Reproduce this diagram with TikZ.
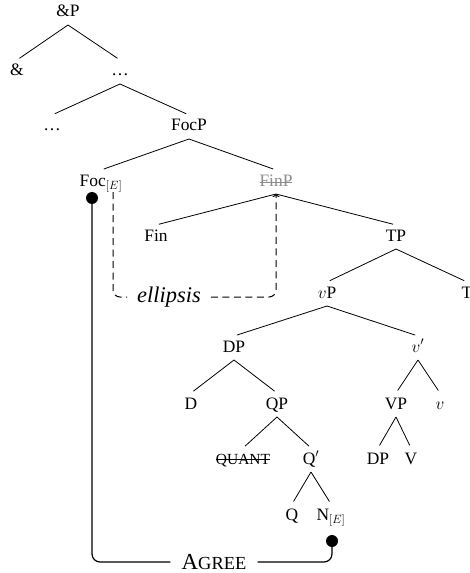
\documentclass[tikz,border=0pt]{standalone}
\usepackage{fontspec}
\setmainfont{Liberation Serif}
\usetikzlibrary{arrows.meta,calc}
\begin{document}
\begin{tikzpicture}[x=1bp,y=-1bp,
  font=\fontsize{17.5}{20}\selectfont,
  lab/.style={inner xsep=0pt, inner ysep=4bp, text height=12bp, text depth=4bp, outer sep=0pt},
  edge/.style={line width=0.8bp, shorten >=3bp},
  strike/.style={line width=0.8bp},
  dsh/.style={line width=1bp, dash pattern=on 7bp off 4.5bp, rounded corners=7bp},
  agr/.style={line width=1.2bp, rounded corners=8bp},
  dotmark/.style={fill=black}]
\useasboundingbox (0,0) rectangle (470,573);
% nodes
\node[lab] (ap) at (68,13) {\&P};
\node[lab] (amp) at (17,72) {\&};
\node[lab] (d1) at (120,72) {\dots};
\node[lab] (d2) at (52,127) {\dots};
\node[lab] (focp) at (189,127) {FocP};
\node[lab] (foc) at (101,182) {Foc$_{[E]}$};
\node[lab, text=black!45] (finp) at (276,182) {FinP};
\node[lab] (fin) at (156,237) {Fin};
\node[lab] (tp) at (396,237) {TP};
\node[lab] (t) at (467,294) {T};
\node[lab] (vp) at (327,294) {$v$P};
\node[lab] (dp) at (234,348) {DP};
\node[lab] (vbar) at (418,348) {$v'$};
\node[lab] (d) at (191,405) {D};
\node[lab] (qp) at (277,405) {QP};
\node[lab] (vvp) at (396,405) {VP};
\node[lab] (v) at (440,405) {$v$};
\node[lab] (quant) at (243,460) {\fontsize{15.5}{18}\selectfont QUANT};
\node[lab] (qbar) at (311,460) {Q$'$};
\node[lab] (dp2) at (378,460) {DP};
\node[lab] (vv) at (411,460) {V};
\node[lab] (q) at (292,516) {Q};
\node[lab] (n) at (331,516) {N$_{[E]}$};
\node[inner xsep=10bp, inner ysep=2bp] (ell) at (169,297) {\fontsize{22.5}{24}\selectfont\textit{ellipsis}};
\node[inner xsep=11bp, inner ysep=2bp] (agree) at (214,562) {\fontsize{23}{26}\selectfont A\fontsize{18.5}{22}\selectfont GREE};
% strike-throughs
\draw[strike, black!45] (finp.west) -- (finp.east);
\draw[strike] ($(quant.west)+(0,-1)$) -- ($(quant.east)+(0,-1)$);
% tree edges
\draw[edge] (ap.south) -- (amp.north);
\draw[edge] (ap.south) -- (d1.north);
\draw[edge] (d1.south) -- (d2.north);
\draw[edge] (d1.south) -- (focp.north);
\draw[edge] (focp.south) -- (foc.north);
\draw[edge] (focp.south) -- (finp.north);
\draw[edge] (finp.south) -- (fin.north);
\draw[edge] (finp.south) -- (tp.north);
\draw[edge] (tp.south) -- (vp.north);
\draw[edge] (tp.south) -- (t.north);
\draw[edge] (vp.south) -- (dp.north);
\draw[edge] (vp.south) -- (vbar.north);
\draw[edge] (dp.south) -- (d.north);
\draw[edge] (dp.south) -- (qp.north);
\draw[edge] (vbar.south) -- (vvp.north);
\draw[edge] (vbar.south) -- (v.north);
\draw[edge] (qp.south) -- (quant.north);
\draw[edge] (qp.south) -- (qbar.north);
\draw[edge] (vvp.south) -- (dp2.north);
\draw[edge] (vvp.south) -- (vv.north);
\draw[edge] (qbar.south) -- (q.north);
\draw[edge] (qbar.south) -- (n.north);
% ellipsis dashed connector
\coordinate (focE) at (113,192);
\draw[dsh] (focE) |- (ell.west);
\draw[dsh, -{To[length=3bp,width=7bp]}] (ell.east) -| (finp.south);
% Agree connector
\coordinate (dotL) at (92,198);
\coordinate (dotR) at (332,541);
\draw[agr] (dotL) |- (agree.west);
\draw[agr] (agree.east) -| (dotR);
\fill[dotmark] (dotL) circle (6bp);
\fill[dotmark] (dotR) circle (6bp);
\end{tikzpicture}
\end{document}
